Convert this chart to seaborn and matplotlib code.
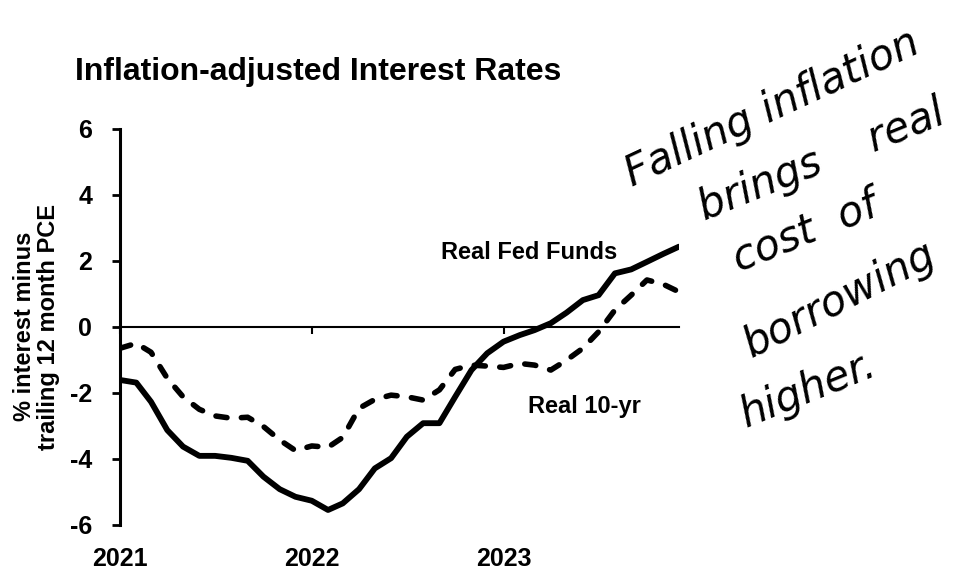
import pandas as pd
import matplotlib.pyplot as plt
import matplotlib.dates as mdates
import seaborn as sns

# monthly observations, Jan 2021 - Dec 2023
months = pd.date_range("2021-01-01", periods=36, freq="MS")

real_fed_funds = [-1.62, -1.70, -2.28, -3.14, -3.64, -3.92, -3.92, -3.98, -4.07, -4.55, -4.93, -5.16,
                  -5.28, -5.56, -5.36, -4.93, -4.30, -3.99, -3.34, -2.93, -2.93, -2.13, -1.32, -0.81,
                  -0.46, -0.26, -0.11, 0.10, 0.42, 0.80, 0.95, 1.61, 1.73, 1.96, 2.20, 2.42]
real_10yr = [-0.66, -0.51, -0.78, -1.57, -2.13, -2.51, -2.71, -2.78, -2.75, -3.03, -3.44, -3.76,
             -3.62, -3.66, -3.36, -2.48, -2.21, -2.08, -2.13, -2.23, -1.92, -1.30, -1.17, -1.20,
             -1.24, -1.12, -1.17, -1.32, -1.02, -0.66, -0.16, 0.50, 0.95, 1.41, 1.28, 1.05]

year_ticks = pd.to_datetime(["2021-01-01", "2022-01-01", "2023-01-01"])
year_labels = ["2021", "2022", "2023"]
y_ticks = [-6, -4, -2, 0, 2, 4, 6]

note_lines = ["Falling inflation", "brings    real", "cost  of", "borrowing", "higher."]

sns.set_style("white")
plt.rcParams['font.family'] = ['Liberation Sans', 'DejaVu Sans']
plt.rcParams['text.color'] = 'black'
plt.rcParams['axes.labelcolor'] = 'black'
plt.rcParams['xtick.color'] = 'black'
plt.rcParams['ytick.color'] = 'black'

df = pd.DataFrame({"month": months,
                   "Real Fed Funds": real_fed_funds,
                   "Real 10-yr": real_10yr})

fig = plt.figure(figsize=(9.59, 5.69), dpi=100)
ax = fig.add_axes([120 / 959, 1 - 524.5 / 569, (679 - 120) / 959, (524.5 - 128.5) / 569])

sns.lineplot(data=df, x="month", y="Real Fed Funds", ax=ax, color="black",
             lw=4.2, solid_joinstyle="round", solid_capstyle="round")
sns.lineplot(data=df, x="month", y="Real 10-yr", ax=ax, color="black",
             lw=4.0, linestyle=(0, (2.0, 2.6)), dash_capstyle="round", dash_joinstyle="round")

ax.set_xlim(months[0], months[-1])
ax.set_ylim(-6, 6)

# spines: thick left axis, thin zero line with year ticks
for s in ["top", "right"]:
    ax.spines[s].set_visible(False)
ax.spines["left"].set_linewidth(2.2)
ax.spines["left"].set_color("black")
ax.spines["bottom"].set_position(("data", 0))
ax.spines["bottom"].set_linewidth(1.5)
ax.spines["bottom"].set_color("black")
ax.spines["bottom"].set_zorder(1)

ax.set_xticks(year_ticks)
ax.tick_params(axis="x", bottom=True, direction="out", length=5, width=1.5, labelbottom=False)
ax.set_yticks(y_ticks)
ax.set_yticklabels([str(v) for v in y_ticks], fontsize=18, fontweight="bold")
ax.tick_params(axis="y", left=True, direction="out", length=6, width=2, pad=14)

ax.set_xlabel("")
ax.set_ylabel("% interest minus\ntrailing 12 month PCE", fontsize=17,
              fontweight="bold", labelpad=7, linespacing=1.05)

# year labels along the bottom
sec = ax.secondary_xaxis("bottom")
sec.set_xticks(mdates.date2num(year_ticks))
sec.set_xticklabels(year_labels, fontsize=18, fontweight="bold")
sec.tick_params(length=0, pad=16)
sec.spines["bottom"].set_visible(False)

ax.text(pd.Timestamp("2023-02-18"), 2.23, "Real Fed Funds", fontsize=17,
        fontweight="bold", ha="center", va="center")
ax.text(pd.Timestamp("2023-06-04"), -2.41, "Real 10-yr", fontsize=17,
        fontweight="bold", ha="center", va="center")

fig.text(75 / 959, 1 - 80 / 569, "Inflation-adjusted Interest Rates",
         fontsize=23, fontweight="bold", va="baseline", ha="left")

# handwritten note
note_pos = [(772, 108, 25), (822, 160, 22), (805, 232, 22), (840, 300, 27), (808, 390, 22)]
for txt, (px, py, rot) in zip(note_lines, note_pos):
    fig.text(px / 959, 1 - py / 569, txt, fontsize=30, style="italic",
             family=["DejaVu Sans"], rotation=rot, rotation_mode="anchor",
             ha="center", va="center", color="black")

fig.savefig("out.png", dpi=100)
